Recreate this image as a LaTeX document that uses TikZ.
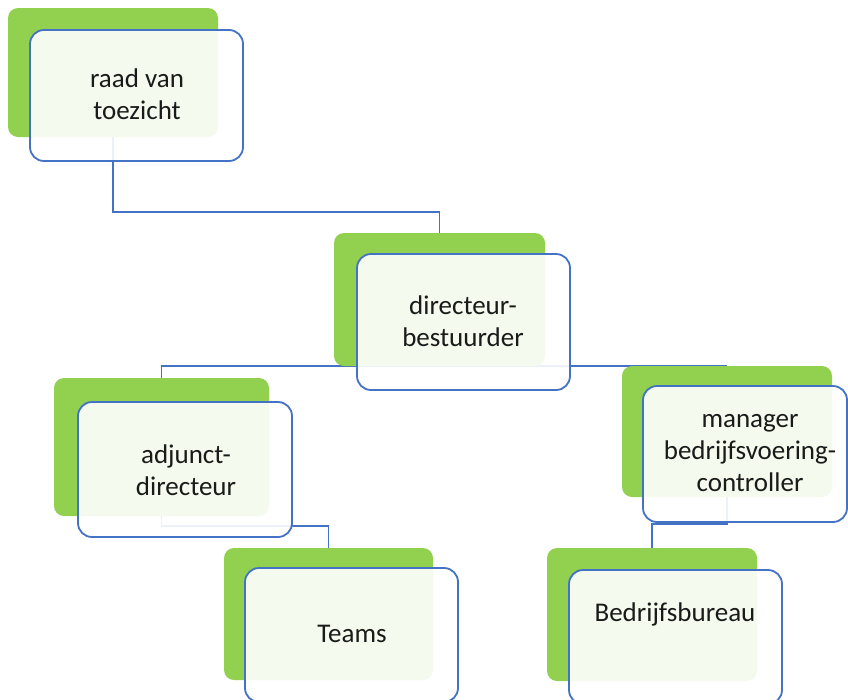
\documentclass[tikz,border=0pt]{standalone}
\usepackage{fontspec}
\setmainfont{Carlito}
\usetikzlibrary{backgrounds}
\definecolor{offgreen}{HTML}{92D050}
\definecolor{offblue}{HTML}{4472C4}
\definecolor{txt}{HTML}{1A1A1A}
\tikzset{
  greenbox/.style={fill=offgreen, draw=none, rounded corners=10pt, inner sep=0pt, outer sep=0pt, anchor=north west},
  whitebox/.style={fill=white, fill opacity=0.9, draw=offblue, line width=1.8pt, rounded corners=14pt, inner sep=0pt, outer sep=0pt, anchor=north west},
  lbl/.style={align=center, text=txt, font=\fontsize{27}{32}\selectfont, inner sep=0pt},
  conn/.style={draw=offblue, line width=1.8pt}
}
\begin{document}
\begin{tikzpicture}[x=1pt,y=-1pt]
\useasboundingbox (0,0) rectangle (848,699);
% green boxes
\node[greenbox, minimum width=210, minimum height=129] (g1) at (8,8) {};
\node[greenbox, minimum width=211, minimum height=133] (g2) at (334,233) {};
\node[greenbox, minimum width=215, minimum height=138] (g3) at (54,378) {};
\node[greenbox, minimum width=210, minimum height=131] (g4) at (622,366) {};
\node[greenbox, minimum width=209, minimum height=132] (g5) at (224,548) {};
\node[greenbox, minimum width=210, minimum height=133] (g6) at (547,548) {};
% white boxes
\node[whitebox, minimum width=213, minimum height=131] (w1) at (30,30) {};
\node[whitebox, minimum width=213, minimum height=136] (w2) at (357,254) {};
\node[whitebox, minimum width=214, minimum height=135] (w3) at (78,402) {};
\node[whitebox, minimum width=204, minimum height=136] (w4) at (643,386) {};
\node[whitebox, minimum width=213, minimum height=134] (w5) at (245,568) {};
\node[whitebox, minimum width=213, minimum height=134] (w6) at (569,570) {};
% labels
\node[lbl] (t1) at (137,94) {raad van\\toezicht};
\node[lbl] (t2) at (463,321) {directeur-\\bestuurder};
\node[lbl] (t3) at (186,470) {adjunct-\\directeur};
\node[lbl] (t4) at (750,453) {manager\\bedrijfsvoering-\\controller};
\node[lbl] (t5) at (352,634) {Teams};
\node[lbl] (t6) at (675,614) {Bedrijfsbureau};
% connectors
\begin{scope}[on background layer]
\draw[conn] (g1.south) -- (g1.south |- 0,212) -| (g2.north);
\draw[conn] (g3.north) |- (g2.south) -| (g4.north);
\draw[conn] (g3.south) -- (g3.south |- 0,526) -| (g5.north);
\draw[conn] (g4.south) -- (g4.south |- 0,524) -| (g6.north);
\end{scope}
\end{tikzpicture}
\end{document}
